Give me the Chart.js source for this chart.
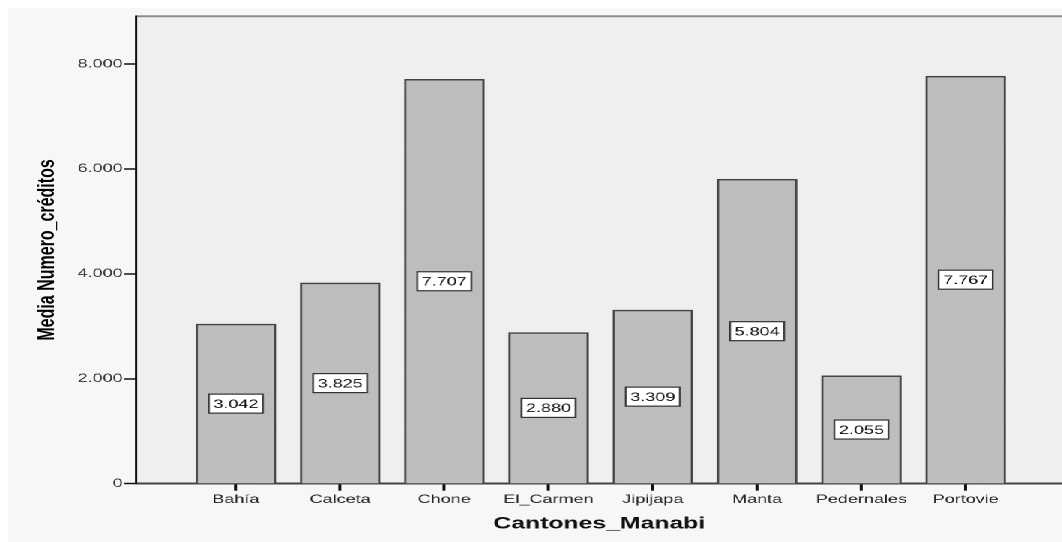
<!DOCTYPE html>
<html lang="es">
  <head>
    <meta charset="UTF-8" />
    <title>Media Numero_créditos por cantón</title>
    <script src="https://cdn.jsdelivr.net/npm/chart.js"></script>
    <style>
      body {
        margin: 0;
        background: #ffffff;
      }
      /* the original export is stretched 1.5x horizontally, so the chart is
         drawn at 2/3 width and scaled back out */
      .chart-box {
        position: absolute;
        left: 8px;
        top: 8px;
        width: 702.67px;
        height: 534px;
        background: #f7f7f7;
        transform: scaleX(1.5);
        transform-origin: 0 0;
      }
    </style>
  </head>
  <body>
    <div class="chart-box">
      <canvas id="mediaChart"></canvas>
    </div>

    <script>
      // data
      var cantones = [
        "Bahía",
        "Calceta",
        "Chone",
        "El_Carmen",
        "Jipijapa",
        "Manta",
        "Pedernales",
        "Portovie",
      ];
      var mediaCreditos = [3042, 3825, 7707, 2880, 3309, 5804, 2055, 7767];
      var yTicks = [0, 2000, 4000, 6000, 8000];

      // "8.000" style, dot as thousands separator
      function fmt(v) {
        if (v === 0) return "0";
        return (v / 1000).toFixed(3);
      }

      // dotted grey fill like the original bars
      function barPattern() {
        var c = document.createElement("canvas");
        c.width = 6;
        c.height = 7;
        var g = c.getContext("2d");
        g.fillStyle = "#bdbdbd";
        g.fillRect(0, 0, 6, 7);
        g.fillStyle = "#cbcbcb";
        g.fillRect(2, 3, 1, 1);
        return g.createPattern(c, "repeat");
      }

      var plotBackground = {
        id: "plotBackground",
        beforeDraw: function (chart) {
          var a = chart.chartArea;
          var ctx = chart.ctx;
          ctx.save();
          ctx.fillStyle = "#efefef";
          ctx.fillRect(a.left, a.top, a.right - a.left, a.bottom - a.top);
          ctx.strokeStyle = "#8c8c8c";
          ctx.lineWidth = 2;
          ctx.beginPath();
          ctx.moveTo(a.left, a.top);
          ctx.lineTo(a.right, a.top);
          ctx.stroke();
          ctx.restore();
        },
      };

      // boxed value label in the middle of each bar
      var barLabels = {
        id: "barLabels",
        afterDatasetsDraw: function (chart) {
          var ctx = chart.ctx;
          var meta = chart.getDatasetMeta(0);
          ctx.save();
          ctx.font = "12px 'Liberation Sans', Arial, sans-serif";
          ctx.textAlign = "center";
          ctx.textBaseline = "middle";
          meta.data.forEach(function (bar, i) {
            var text = fmt(mediaCreditos[i]);
            var w = ctx.measureText(text).width + 6;
            var h = 19;
            var cy = (bar.y + bar.base) / 2;
            ctx.fillStyle = "#ffffff";
            ctx.fillRect(bar.x - w / 2, cy - h / 2, w, h);
            ctx.strokeStyle = "#333333";
            ctx.lineWidth = 1.2;
            ctx.strokeRect(bar.x - w / 2, cy - h / 2, w, h);
            ctx.fillStyle = "#111111";
            ctx.fillText(text, bar.x, cy + 1);
          });
          ctx.restore();
        },
      };

      var ctx = document.getElementById("mediaChart").getContext("2d");

      new Chart(ctx, {
        type: "bar",
        data: {
          datasets: [
            {
              label: "Media Numero_créditos",
              data: cantones.map(function (c, i) {
                return { x: i, y: mediaCreditos[i] };
              }),
              backgroundColor: barPattern(),
              borderColor: "#444444",
              borderWidth: 1.5,
              borderSkipped: "bottom",
              barThickness: 53,
            },
          ],
        },
        options: {
          responsive: true,
          maintainAspectRatio: false,
          devicePixelRatio: 2,
          animation: false,
          layout: { padding: { top: 7, left: 0, right: 0, bottom: 0 } },
          plugins: {
            legend: { display: false },
            tooltip: { enabled: false },
          },
          scales: {
            x: {
              type: "linear",
              min: -0.956,
              max: 7.93,
              offset: false,
              afterBuildTicks: function (scale) {
                scale.ticks = cantones.map(function (c, i) {
                  return { value: i };
                });
              },
              afterFit: function (scale) {
                scale.height = 58.3;
              },
              grid: {
                offset: false,
                drawOnChartArea: false,
                tickLength: 7,
                color: "#111111",
                tickColor: "#111111",
                tickWidth: 2,
              },
              border: { color: "#444444", width: 2 },
              ticks: {
                autoSkip: false,
                maxRotation: 0,
                padding: 2,
                color: "#222222",
                font: { family: "'Liberation Sans', Arial, sans-serif", size: 12 },
                callback: function (v) {
                  return cantones[v];
                },
              },
              title: {
                display: true,
                text: "Cantones_Manabi",
                color: "#111111",
                padding: { top: 0, bottom: 8 },
                font: {
                  family: "'Liberation Sans', Arial, sans-serif",
                  size: 16.5,
                  weight: "bold",
                },
              },
            },
            y: {
              min: 0,
              max: 8910,
              bounds: "data",
              afterBuildTicks: function (scale) {
                scale.ticks = yTicks.map(function (v) {
                  return { value: v };
                });
              },
              afterFit: function (scale) {
                scale.width = 85.3;
              },
              grid: {
                drawOnChartArea: false,
                tickLength: 8,
                color: "#111111",
                tickColor: "#111111",
                tickWidth: 1.5,
              },
              border: { color: "#111111", width: 1.5 },
              ticks: {
                padding: 1,
                color: "#333333",
                font: { family: "'Liberation Sans', Arial, sans-serif", size: 12 },
                callback: function (v) {
                  return fmt(v);
                },
              },
              title: {
                display: true,
                text: "Media Numero_créditos",
                color: "#000000",
                padding: { top: 16.4, bottom: 0 },
                font: {
                  family: "'Liberation Sans', Arial, sans-serif",
                  size: 16,
                  weight: "bold",
                },
              },
            },
          },
        },
        plugins: [plotBackground, barLabels],
      });
    </script>
  </body>
</html>
